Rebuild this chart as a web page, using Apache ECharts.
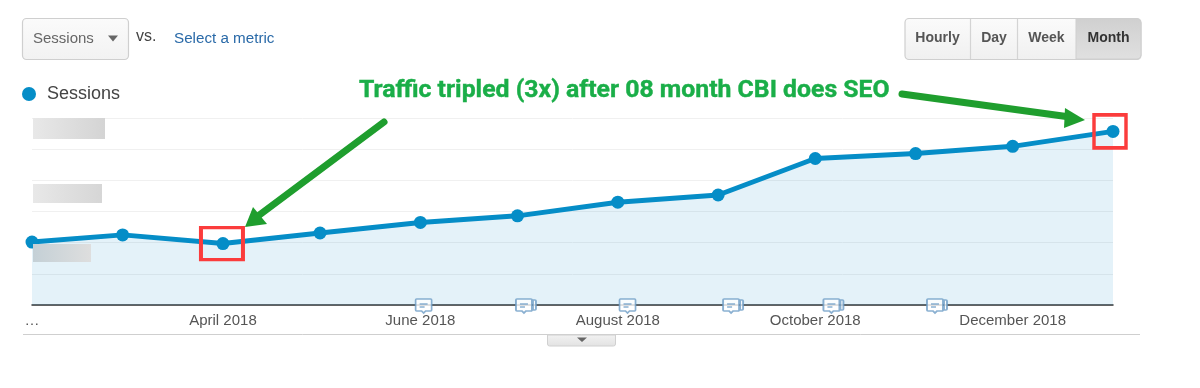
<!DOCTYPE html>
<html><head><meta charset="utf-8">
<style>html,body{margin:0;padding:0;background:#fff}#c{width:1200px;height:388px}</style>
<script src="https://cdn.jsdelivr.net/npm/echarts@6/dist/echarts.min.js"></script>
</head><body><div id="c"></div>
<script>
const months = ['2018-02-01','2018-03-01','2018-04-01','2018-05-01','2018-06-01','2018-07-01','2018-08-01','2018-09-01','2018-10-01','2018-11-01','2018-12-01','2019-01-01'];
const sessions = [2.02,2.25,1.97,2.31,2.65,2.86,3.30,3.53,4.70,4.86,5.09,5.57];
const tickDates = ['2018-02-01','2018-04-01','2018-06-01','2018-08-01','2018-10-01','2018-12-01'];
const tickLabels = ['…','April 2018','June 2018','August 2018','October 2018','December 2018'];
const noteDates = ['2018-06-02','2018-07-03','2018-08-04','2018-09-05','2018-10-06','2018-11-07'];
const noteStacked = [false,true,false,true,true,true];
const highlightIdx = [2,11];
const highlightSize = [[42,32],[32,33]];
const highlightOffset = [[-1,0],[-3,0]];
const buttons = ['Hourly','Day','Week','Month'];

const parse = s => echarts.number.parseDate(s).getTime();
const labelByTime = {};
tickDates.forEach((d,i)=>{labelByTime[parse(d)] = tickLabels[i];});
const bubble = 'M1 0H15Q16 0 16 1V11Q16 12 15 12H10L8 14L6 12H1Q0 12 0 11V1Q0 0 1 0ZM4 5H12M4 8H9';
const single = 'path://'+bubble;
const stacked = 'path://'+bubble+'M17 1H19Q20 1 20 2V10Q20 11 19 11H17Z';
const GREEN='#1f9e2e';
const txt=(x,y,text,font,fill,align)=>({type:'text',x,y,z:20,style:{text,font,fill,align:align||'left',verticalAlign:'middle'}});
const grad=(a,b)=>({type:'linear',x:0,y:0,x2:0,y2:1,colorStops:[{offset:0,color:a},{offset:1,color:b}]});
const hgrad=(a,b)=>({type:'linear',x:0,y:0,x2:1,y2:0,colorStops:[{offset:0,color:a},{offset:1,color:b}]});
const graphics=[
 {type:'rect',z:20,shape:{x:22.5,y:18.5,width:106,height:41,r:4},style:{fill:grad('#fbfbfb','#f2f2f2'),stroke:'#cfcfcf',lineWidth:1.2}},
 txt(33,39,'Sessions','15px "Liberation Sans"','#666'),
 {type:'polygon',z:20,shape:{points:[[108,35.5],[118,35.5],[113,41.5]]},style:{fill:'#666'}},
 txt(136,37,'vs.','16px "Liberation Sans"','#444'),
 txt(174,39,'Select a metric','15.2px "Liberation Sans"','#2a6aa8'),
 {type:'rect',z:20,shape:{x:905,y:18.5,width:236,height:41,r:4},style:{fill:grad('#fbfbfb','#f0f0f0'),stroke:'#cfcfcf',lineWidth:1.2}},
 {type:'rect',z:20,shape:{x:1076,y:19,width:65,height:40,r:[0,4,4,0]},style:{fill:grad('#d0d0d0','#e0e0e0'),stroke:'#cfcfcf',lineWidth:1}},
 {type:'line',z:20,shape:{x1:970.5,y1:19,x2:970.5,y2:59},style:{stroke:'#d4d4d4',lineWidth:1.2}},
 {type:'line',z:20,shape:{x1:1017.5,y1:19,x2:1017.5,y2:59},style:{stroke:'#d4d4d4',lineWidth:1.2}},
 txt(937.5,38.5,buttons[0],'bold 14px "Liberation Sans"','#555','center'),
 txt(994,38.5,buttons[1],'bold 14px "Liberation Sans"','#555','center'),
 txt(1046.5,38.5,buttons[2],'bold 14px "Liberation Sans"','#555','center'),
 txt(1108.5,38.5,buttons[3],'bold 14px "Liberation Sans"','#333','center'),
 {type:'text',x:359,y:91,scaleX:1.033,z:20,style:{text:'Traffic tripled (3x) after 08 month CBI does SEO',font:'bold 24px "Roboto"',fill:'#1aae48',stroke:'#1aae48',lineWidth:0.4,align:'left',verticalAlign:'middle'}},
 {type:'line',z:21,shape:{x1:384,y1:122,x2:258,y2:216},style:{stroke:GREEN,lineWidth:7,lineCap:'round'}},
 {type:'polygon',z:21,shape:{points:[[245,227],[253,207],[267,224]]},style:{fill:GREEN}},
 {type:'line',z:21,shape:{x1:902,y1:94,x2:1070,y2:117},style:{stroke:GREEN,lineWidth:7,lineCap:'round'}},
 {type:'polygon',z:21,shape:{points:[[1085,120],[1065,108],[1064,128]]},style:{fill:GREEN}},
 {type:'rect',z:19,shape:{x:33,y:118,width:72,height:21},style:{fill:hgrad('#e8e8e8','#d4d4d4')}},
 {type:'rect',z:19,shape:{x:33,y:184,width:69,height:19},style:{fill:hgrad('#e8e8e8','#d6d6d6')}},
 {type:'rect',z:19,shape:{x:33,y:244,width:58,height:18},style:{fill:hgrad('#c4d0d6','#dedede')}},
 {type:'line',z:20,shape:{x1:23,y1:334.5,x2:1140,y2:334.5},style:{stroke:'#cfcfcf',lineWidth:1}},
 {type:'rect',z:20,shape:{x:547.5,y:335,width:68,height:11,r:[0,0,2,2]},style:{fill:grad('#f2f2f2','#e2e2e2'),stroke:'#d0d0d0',lineWidth:1}},
 {type:'polygon',z:21,shape:{points:[[577,337.5],[587,337.5],[582,342]]},style:{fill:'#666'}}
];
const option={
 animation:false,
 legend:{left:22,top:85,padding:0,data:['Sessions'],icon:'circle',itemWidth:14,itemHeight:14,itemGap:8,
   textStyle:{fontFamily:'Liberation Sans',fontSize:18,color:'#444',padding:[0,0,0,6]},selectedMode:false},
 grid:{left:32,right:87,top:118,height:187,containLabel:false},
 xAxis:{type:'value',min:parse(months[0]),max:parse(months[months.length-1]),
   axisLine:{show:true,onZero:false,lineStyle:{color:'#333',width:1.5}},axisTick:{show:false},splitLine:{show:false},
   axisLabel:{customValues:tickDates.map(parse),formatter:v=>labelByTime[v]||'',fontFamily:'Liberation Sans',fontSize:15,color:'#555',margin:8,hideOverlap:false,showMinLabel:true,showMaxLabel:true}},
 yAxis:{type:'value',min:0,max:6,interval:1,axisLine:{show:false},axisTick:{show:false},axisLabel:{show:false},
   splitLine:{lineStyle:{color:'#f0f0f0',width:1}}},
 graphic:graphics,
 series:[
  {name:'Sessions',type:'line',clip:false,z:3,data:months.map((m,i)=>[parse(m),sessions[i]]),symbol:'circle',symbolSize:13,showSymbol:true,
   color:'#058dc7',lineStyle:{color:'#058dc7',width:5},itemStyle:{color:'#058dc7'},
   areaStyle:{color:'#058dc7',opacity:0.11},
   markPoint:{silent:true,z:6,label:{show:false},
     data:highlightIdx.map((k,i)=>({xAxis:parse(months[k]),yAxis:sessions[k],symbol:'rect',symbolSize:highlightSize[i],symbolOffset:highlightOffset[i],
       itemStyle:{color:'rgba(0,0,0,0)',borderColor:'#fb3c3c',borderWidth:3.5}}))}},
  {name:'Notes',type:'scatter',clip:false,z:5,silent:true,symbolKeepAspect:false,
   data:noteDates.map((d,i)=>({value:[parse(d),0],symbol:noteStacked[i]?stacked:single,symbolSize:noteStacked[i]?[20,14]:[16,14],symbolOffset:noteStacked[i]?[2,1]:[0,1]})),
   itemStyle:{color:'#fff',borderColor:'#6d9cc6',borderWidth:1.6}}
 ]
};
echarts.init(document.getElementById('c'),null,{renderer:'canvas'}).setOption(option);
</script></body></html>
